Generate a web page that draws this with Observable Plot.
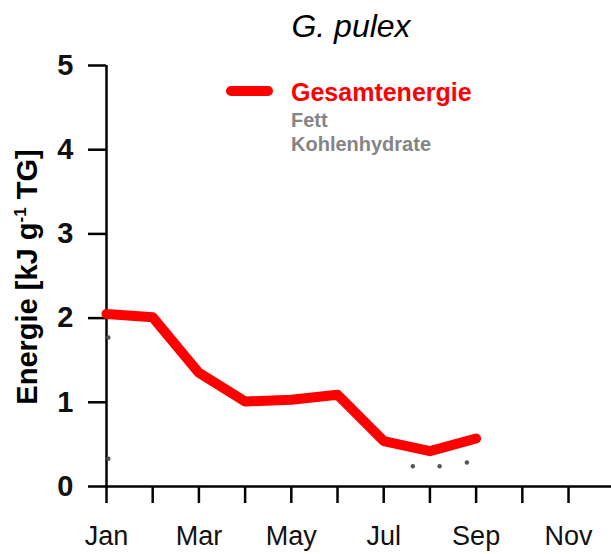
<!DOCTYPE html>
<html>
<head>
<meta charset="utf-8">
<script src="https://cdn.jsdelivr.net/npm/d3@7"></script>
<script src="https://cdn.jsdelivr.net/npm/@observablehq/plot@0.6"></script>
<style>
  body { margin: 0; background: #fff; font-family: "Liberation Sans", Arial, sans-serif; }
  #wrap { position: relative; width: 611px; height: 554px; overflow: hidden; }
  #title { position: absolute; left: 0; width: 702px; top: 10px; line-height: 1; text-align: center; font-style: italic; font-size: 32px; }
  #ylab { position: absolute; left: 27px; top: 277px; line-height: 1; transform: translate(-50%, -50%) rotate(-90deg); white-space: nowrap; font-weight: bold; font-size: 29px; }
  #ylab sup { font-size: 17px; }
  .leg { position: absolute; font-weight: bold; white-space: nowrap; line-height: 1; }
  #legline { position: absolute; left: 226px; top: 86px; width: 47px; height: 10px; background: #ff0000; border-radius: 5px; }
</style>
</head>
<body>
<div id="wrap">
  <div id="chart"></div>
  <div id="title">G. pulex</div>
  <div id="ylab">Energie [kJ g<sup>-1</sup> TG]</div>
  <div id="legline"></div>
  <div class="leg" style="left:291px;top:80px;font-size:25px;color:#ff0000;">Gesamtenergie</div>
  <div class="leg" style="left:291px;top:110px;font-size:20px;color:#858585;">Fett</div>
  <div class="leg" style="left:291px;top:134px;font-size:20px;color:#858585;">Kohlenhydrate</div>
</div>
<script>
const tickLabels = ["Jan","","Mar","","May","","Jul","","Sep","","Nov"];
const tickMonths = [0,1,2,3,4,5,6,7,8,9,10];
const yTicks = [0,1,2,3,4,5];
const gesamtMonth = [0,1,2,3,4,5,6,7,8];
const gesamtValue = [2.05,2.01,1.35,1.01,1.03,1.09,0.54,0.42,0.57];
const fettMonth = [0.04, 6.63, 7.21];
const fettValue = [1.77, 0.24, 0.24];
const kohlMonth = [0.04, 7.8];
const kohlValue = [0.33, 0.285];

const gesamt = gesamtMonth.map((m,i) => ({m, v: gesamtValue[i]}));
const fett = fettMonth.map((m,i) => ({m, v: fettValue[i]}));
const kohl = kohlMonth.map((m,i) => ({m, v: kohlValue[i]}));

const chart = Plot.plot({
  width: 611,
  height: 554,
  marginLeft: 106,
  marginRight: 0,
  marginTop: 65,
  marginBottom: 68,
  style: {fontFamily: "'Liberation Sans', Arial, sans-serif", background: "white"},
  x: {domain: [0, 10.93]},
  y: {domain: [0, 5]},
  marks: [
    Plot.axisY({ticks: yTicks, tickFormat: d3.format("d"), tickSize: 18, tickPadding: 15, strokeWidth: 2.5, fontSize: 29, fontWeight: "bold", fill: "#111", label: null}),
    Plot.axisX({ticks: tickMonths, tickFormat: i => tickLabels[i], tickSize: 17, tickPadding: 22, strokeWidth: 2.5, fontSize: 27, fill: "#111", stroke: "black", label: null}),
    Plot.ruleY([0], {stroke: "black", strokeWidth: 2.5}),
    Plot.ruleX([0], {stroke: "black", strokeWidth: 2.5}),
    Plot.dot(fett, {x: "m", y: "v", r: 2.2, fill: "#555", stroke: null}),
    Plot.dot(kohl, {x: "m", y: "v", r: 2.2, fill: "#555", stroke: null}),
    Plot.line(gesamt, {x: "m", y: "v", stroke: "#ff0000", strokeWidth: 10, strokeLinejoin: "round", strokeLinecap: "round"})
  ]
});
document.getElementById("chart").appendChild(chart);
</script>
</body>
</html>
